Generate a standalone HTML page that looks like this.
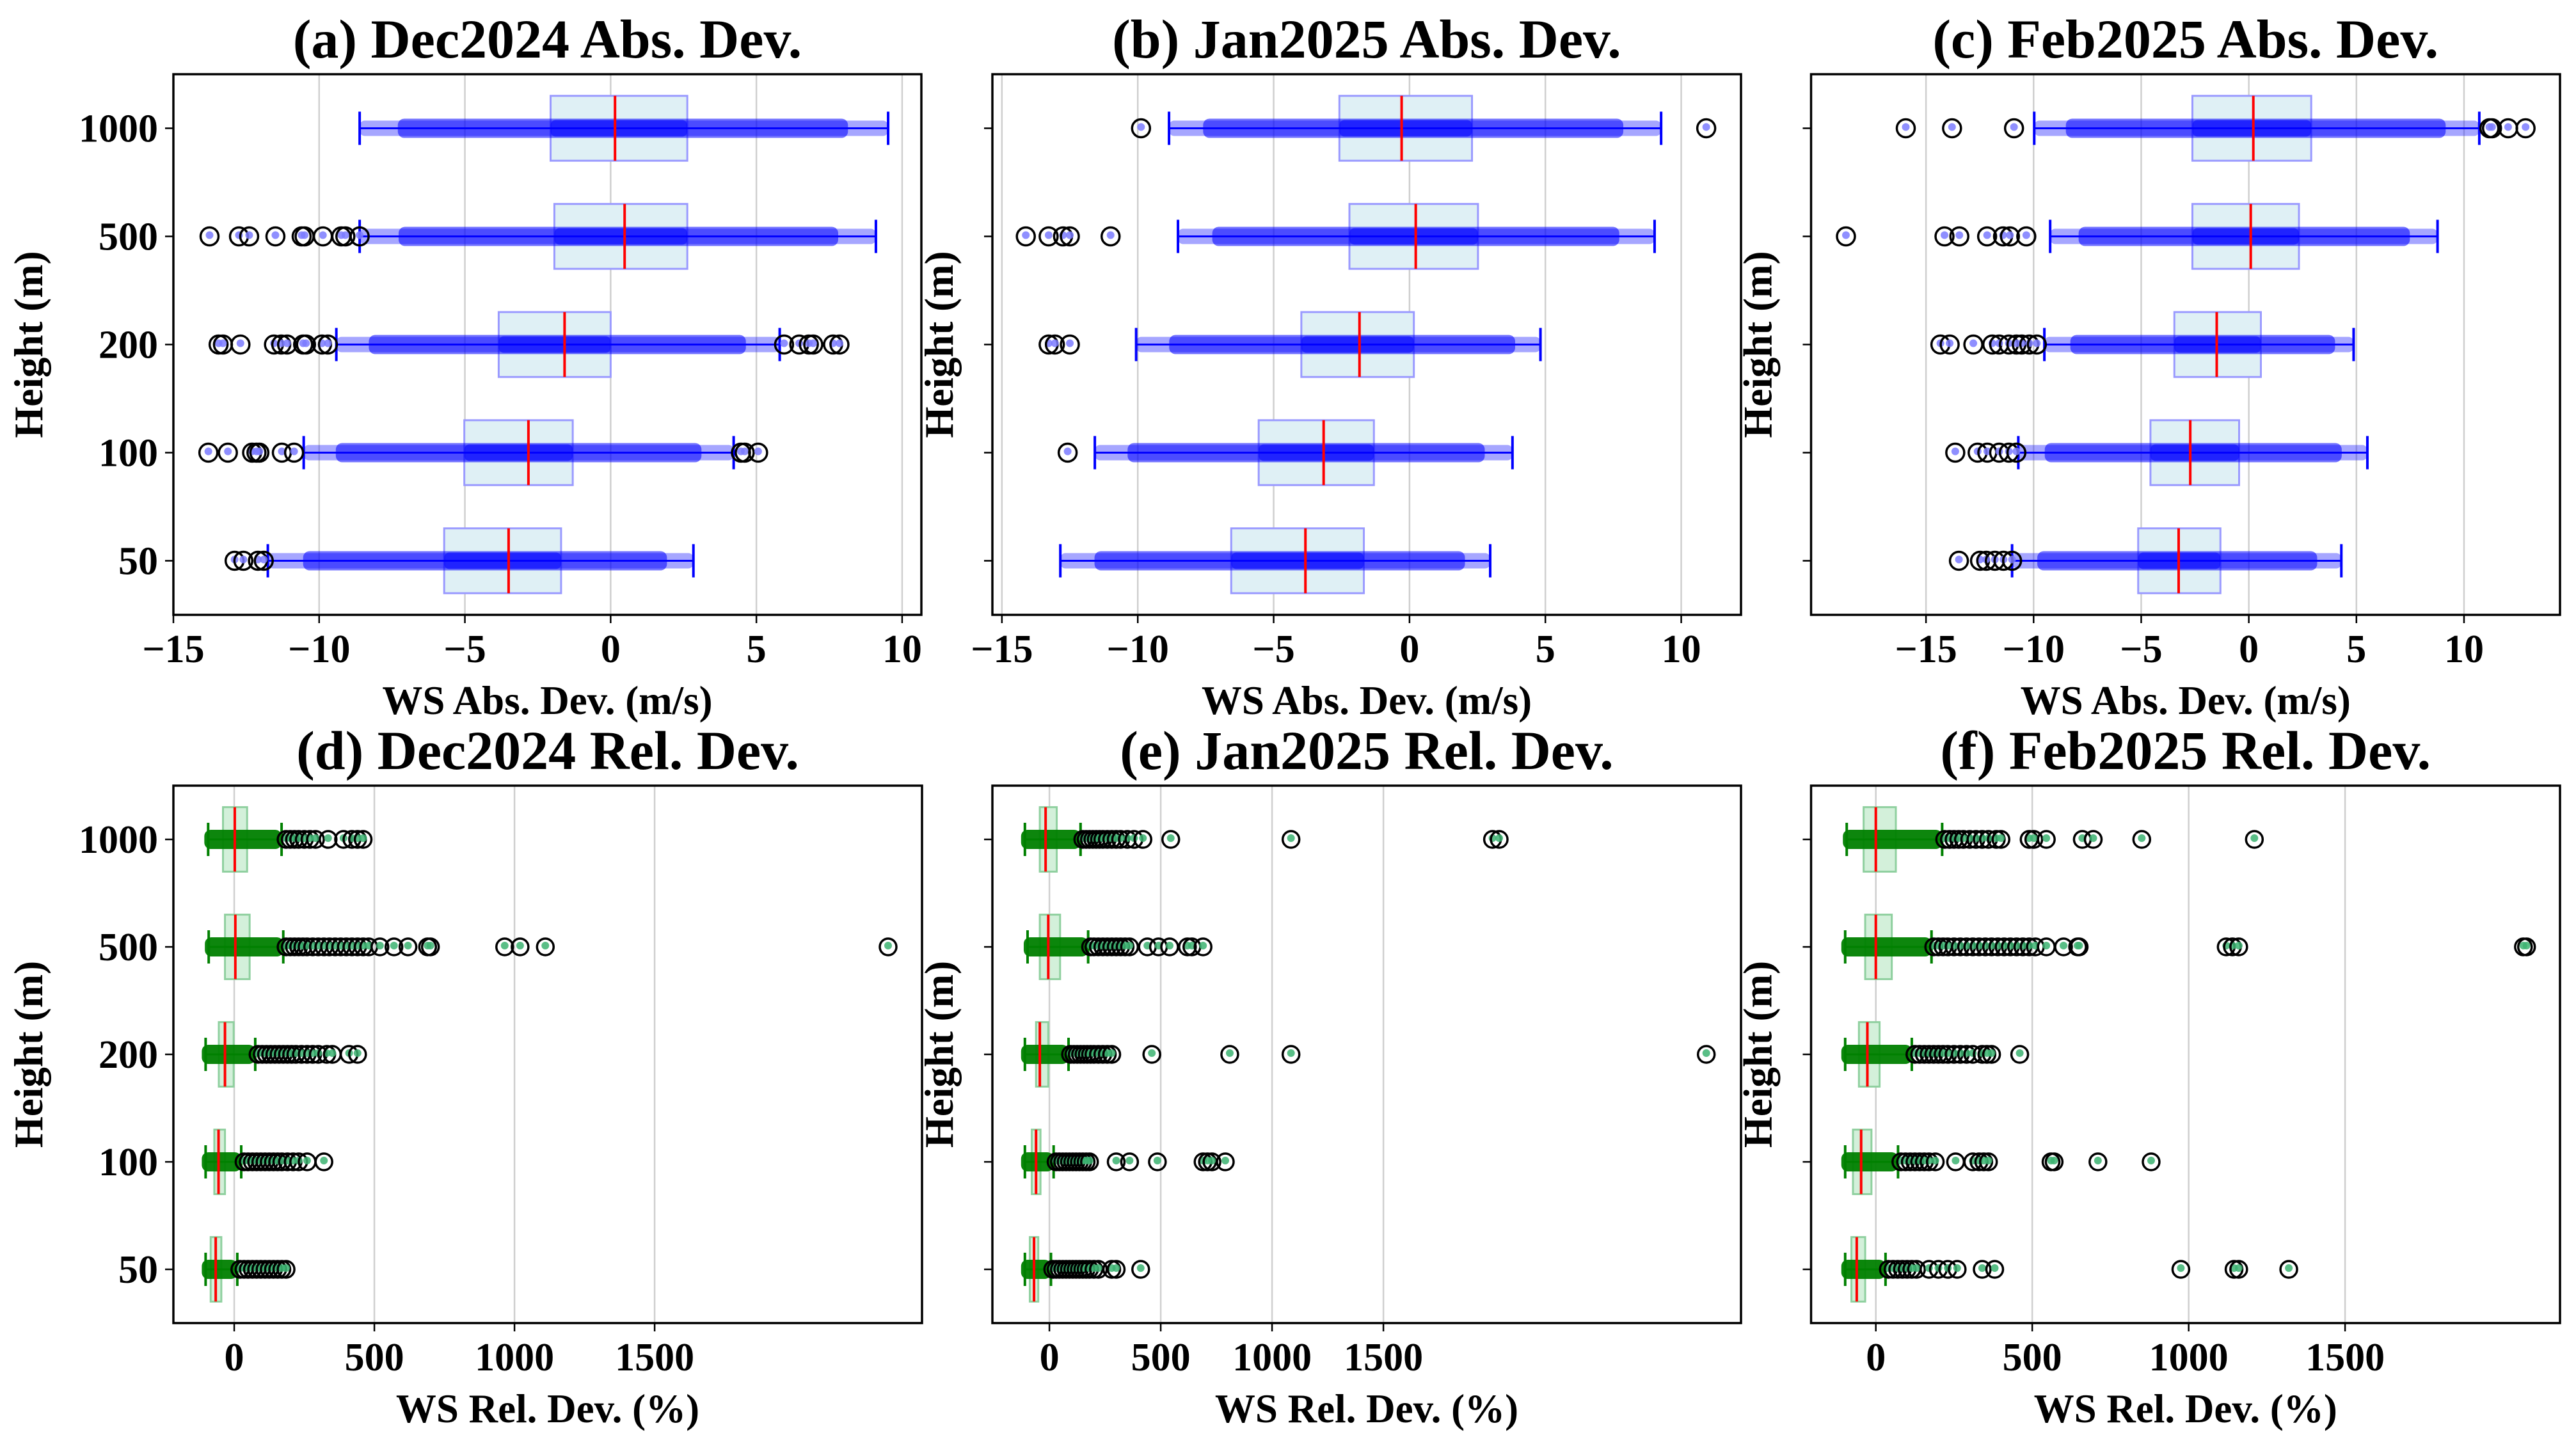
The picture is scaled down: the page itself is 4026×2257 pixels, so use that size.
<!DOCTYPE html>
<html><head><meta charset="utf-8">
<style>
html,body{margin:0;padding:0;background:#fff;}
svg{display:block;}
text{font-family:"Liberation Serif","DejaVu Serif",serif;font-weight:bold;fill:#000;}
</style></head>
<body>
<svg id="fig" xmlns="http://www.w3.org/2000/svg" width="4026" height="2257" viewBox="0 0 4026 2257"></svg>
<script>
// Height categories (bottom to top)
const heights = [50, 100, 200, 500, 1000];
const absTicks = [-15, -10, -5, 0, 5, 10];
const relTicks = [0, 500, 1000, 1500];

// (a) Dec2024 Abs
const aLo = [-11.76, -10.53, -9.41, -8.61, -8.61];
const aQ1 = [-5.71, -5.02, -3.84, -1.93, -2.06];
const aMed = [-3.5, -2.82, -1.58, 0.48, 0.15];
const aQ3 = [-1.7, -1.3, 0.0, 2.63, 2.63];
const aHi = [2.84, 4.22, 5.8, 9.1, 9.52];
const aOut = [[-12.9, -12.6, -12.1, -11.9], [-13.8, -13.13, -12.3, -12.15, -12.05, -11.28, -10.86, 4.47, 4.6, 5.06], [-13.45, -13.3, -12.7, -11.55, -11.3, -11.1, -10.55, -10.45, -9.9, -9.7, 5.95, 6.47, 6.8, 6.95, 7.63, 7.85], [-13.76, -12.75, -12.4, -11.5, -10.6, -10.5, -9.87, -9.24, -9.1, -8.61], []];

// (b) Jan2025 Abs
const bLo = [-12.85, -11.58, -10.06, -8.52, -8.85];
const bQ1 = [-6.56, -5.55, -3.98, -2.21, -2.58];
const bMed = [-3.83, -3.16, -1.84, 0.23, -0.29];
const bQ3 = [-1.68, -1.31, 0.16, 2.52, 2.3];
const bHi = [2.97, 3.79, 4.82, 9.02, 9.26];
const bOut = [[], [-12.58], [-13.28, -13.05, -12.5], [-14.12, -13.28, -12.75, -12.5, -11.0], [-9.88, 10.92]];

// (c) Feb2025 Abs
const cLo = [-11.0, -10.71, -9.5, -9.23, -9.97];
const cQ1 = [-5.14, -4.57, -3.46, -2.62, -2.62];
const cMed = [-3.26, -2.72, -1.49, 0.09, 0.21];
const cQ3 = [-1.32, -0.45, 0.56, 2.33, 2.9];
const cHi = [4.3, 5.51, 4.87, 8.77, 10.71];
const cOut = [[-13.47, -12.49, -12.2, -11.8, -11.4, -11.0], [-13.64, -12.6, -12.15, -11.6, -11.15, -10.8], [-14.33, -13.9, -12.8, -11.92, -11.6, -11.15, -10.8, -10.55, -10.2, -9.85], [-18.72, -14.14, -13.45, -12.16, -11.42, -11.1, -10.34], [-15.94, -13.79, -10.91, 11.18, 11.3, 12.05, 12.86]];

// (d) Dec2024 Rel
const dLo = [-102, -102, -102, -91, -93];
const dQ1 = [-84, -71, -55, -33, -40];
const dMed = [-66, -56, -33, 4, 2];
const dQ3 = [-46, -33, -2, 55, 46];
const dHi = [11, 25, 75, 175, 169];
const dOut = [[20, 35, 50, 65, 80, 95, 110, 125, 140, 155, 170, 185], [35, 50, 65, 80, 95, 110, 125, 140, 155, 170, 190, 210, 230, 260, 320], [85, 100, 115, 130, 145, 160, 175, 190, 205, 220, 240, 260, 280, 300, 330, 350, 410, 440], [185, 200, 215, 230, 245, 260, 280, 300, 320, 340, 360, 380, 400, 420, 440, 460, 480, 520, 570, 620, 690, 700, 965, 1020, 1110, 2333], [185, 200, 215, 230, 250, 270, 290, 335, 390, 420, 440, 460]];

// (e) Jan2025 Rel
const eLo = [-110, -110, -110, -98, -110];
const eQ1 = [-88, -79, -60, -43, -43];
const eMed = [-69, -60, -43, -5, -17];
const eQ3 = [-50, -40, -5, 48, 33];
const eHi = [7, 19, 86, 174, 140];
const eOut = [[15, 30, 45, 60, 75, 90, 105, 120, 135, 150, 165, 180, 200, 220, 280, 300, 410], [30, 45, 60, 75, 90, 105, 120, 135, 150, 165, 180, 300, 360, 485, 690, 710, 730, 790], [95, 110, 125, 140, 155, 170, 185, 200, 220, 240, 260, 280, 460, 810, 1085, 2950], [185, 200, 220, 240, 260, 280, 300, 320, 340, 360, 440, 490, 540, 620, 640, 690], [150, 165, 180, 195, 210, 225, 240, 260, 280, 300, 320, 350, 380, 420, 545, 1085, 1990, 2020]];

// (f) Feb2025 Rel
const fLo = [-98, -98, -98, -98, -93];
const fQ1 = [-78, -73, -54, -34, -39];
const fMed = [-61, -47, -27, 0, 0];
const fQ3 = [-34, -14, 12, 51, 64];
const fHi = [31, 71, 115, 178, 212];
const fOut = [[40, 55, 70, 85, 100, 115, 130, 170, 200, 230, 260, 340, 380, 975, 1145, 1160, 1320], [80, 95, 110, 125, 140, 155, 170, 190, 255, 310, 330, 345, 360, 560, 570, 710, 880], [125, 140, 155, 170, 185, 200, 215, 230, 250, 270, 290, 310, 340, 355, 370, 460], [185, 200, 215, 230, 250, 270, 290, 310, 330, 350, 370, 390, 410, 430, 450, 470, 490, 510, 545, 600, 645, 650, 1120, 1140, 1160, 2070, 2080], [220, 235, 250, 265, 280, 300, 320, 340, 360, 385, 400, 490, 505, 545, 660, 695, 850, 1210]];

const NS = "http://www.w3.org/2000/svg";
const svg = document.getElementById('fig');
function mk(tag, attrs, parent) {
  const e = document.createElementNS(NS, tag);
  for (const k in attrs) e.setAttribute(k, attrs[k]);
  (parent || svg).appendChild(e);
  return e;
}
function fmt(v) { return v < 0 ? '\u2212' + Math.abs(v) : String(v); }

const panels = [
  {id:'a', title:'(a) Dec2024 Abs. Dev.', x0:271, x1:1440, y0:116, y1:961, xmin:-15, xmax:10.66, ticks:absTicks, lo:aLo,q1:aQ1,med:aMed,q3:aQ3,hi:aHi,out:aOut, kind:'abs', ylab:true, xlabel:'WS Abs. Dev. (m/s)'},
  {id:'b', title:'(b) Jan2025 Abs. Dev.', x0:1551, x1:2721, y0:116, y1:961, xmin:-15.35, xmax:12.2, ticks:absTicks, lo:bLo,q1:bQ1,med:bMed,q3:bQ3,hi:bHi,out:bOut, kind:'abs', ylab:false, xlabel:'WS Abs. Dev. (m/s)'},
  {id:'c', title:'(c) Feb2025 Abs. Dev.', x0:2830.5, x1:4001, y0:116, y1:961, xmin:-20.34, xmax:14.46, ticks:absTicks, lo:cLo,q1:cQ1,med:cMed,q3:cQ3,hi:cHi,out:cOut, kind:'abs', ylab:false, xlabel:'WS Abs. Dev. (m/s)'},
  {id:'d', title:'(d) Dec2024 Rel. Dev.', x0:271, x1:1441, y0:1228, y1:2068, xmin:-217, xmax:2454, ticks:relTicks, lo:dLo,q1:dQ1,med:dMed,q3:dQ3,hi:dHi,out:dOut, kind:'rel', ylab:true, xlabel:'WS Rel. Dev. (%)'},
  {id:'e', title:'(e) Jan2025 Rel. Dev.', x0:1551, x1:2721, y0:1228, y1:2068, xmin:-256, xmax:3106, ticks:relTicks, lo:eLo,q1:eQ1,med:eMed,q3:eQ3,hi:eHi,out:eOut, kind:'rel', ylab:false, xlabel:'WS Rel. Dev. (%)'},
  {id:'f', title:'(f) Feb2025 Rel. Dev.', x0:2830.5, x1:4001, y0:1228, y1:2068, xmin:-207, xmax:2187, ticks:relTicks, lo:fLo,q1:fQ1,med:fMed,q3:fQ3,hi:fHi,out:fOut, kind:'rel', ylab:false, xlabel:'WS Rel. Dev. (%)'}
];

panels.forEach(p => {
  const g = mk('g', {});
  
  
  const X = v => p.x0 + (v - p.xmin) / (p.xmax - p.xmin) * (p.x1 - p.x0);
  const Y = i => p.y1 - ((i + 1) - 0.5) / 5 * (p.y1 - p.y0);
  const unitH = (p.y1 - p.y0) / 5;
  const cx = (p.x0 + p.x1) / 2;

  const t = mk('text', {x:cx, y:p.y0 - 26, 'text-anchor':'middle', 'font-size':86}, g);
  t.textContent = p.title;
  
  

  p.ticks.forEach(tv => {
    const gl = mk('line', {x1:X(tv), x2:X(tv), y1:p.y0, y2:p.y1, stroke:'#cfcfcf', 'stroke-width':2.5}, g);
    
    
  });

  const isAbs = p.kind === 'abs';
  const col = isAbs ? '#0000ff' : '#008000';
  const boxFill = isAbs ? '#dff0f5' : '#d3f0da';
  const boxEdge = isAbs ? '#9a9aff' : '#8fd09f';
  const dotCol = isAbs ? '#7b7bff' : '#3cb371';

  for (let i = 0; i < 5; i++) {
    const yc = Y(i);
    const bx = X(p.q1[i]), bw = X(p.q3[i]) - X(p.q1[i]);
    const bh = unitH * 0.6;
    const box = mk('rect', {x:bx, y:yc - bh/2, width:bw, height:bh, fill:boxFill, stroke:boxEdge, 'stroke-width':3}, g);
    
    
    const wl = mk('line', {x1:X(p.lo[i]), x2:X(p.hi[i]), y1:yc, y2:yc, stroke:col, 'stroke-width':3}, g);
    
    
    if (isAbs) {
      const band1 = mk('rect', {x:X(p.lo[i]), y:yc - 12, width:X(p.hi[i]) - X(p.lo[i]), height:24, fill:col, opacity:0.35, rx:8}, g);
      
      
      const l2 = p.q1[i] - (p.q1[i] - p.lo[i]) * 0.8, h2 = p.q3[i] + (p.hi[i] - p.q3[i]) * 0.8;
      const band2 = mk('rect', {x:X(l2), y:yc - 15, width:X(h2) - X(l2), height:30, fill:col, opacity:0.55, rx:10}, g);
      
      
      const band3 = mk('rect', {x:X(p.q1[i]), y:yc - 13, width:X(p.q3[i]) - X(p.q1[i]), height:26, fill:col, opacity:0.5, rx:8}, g);
      
      
    } else {
      const band1 = mk('rect', {x:X(p.lo[i]) - 6, y:yc - 15, width:X(p.hi[i]) - X(p.lo[i]) + 6, height:30, fill:col, opacity:0.95, rx:10}, g);
      
      
    }
    [p.lo[i], p.hi[i]].forEach(v => {
      const c = mk('line', {x1:X(v), x2:X(v), y1:yc - 26, y2:yc + 26, stroke:col, 'stroke-width':4}, g);
      
      
    });
    const m = mk('line', {x1:X(p.med[i]), x2:X(p.med[i]), y1:yc - bh/2, y2:yc + bh/2, stroke:'#ff0000', 'stroke-width':4}, g);
    
    
    const R = isAbs ? 14 : 13;
    p.out[i].forEach(v => {
      const d = mk('circle', {cx:X(v), cy:yc - 2, r:6, fill:dotCol, opacity:0.85}, g);
      
      
      const o = mk('circle', {cx:X(v), cy:yc, r:R, fill:'none', stroke:'#000', 'stroke-width':3.5}, g);
      
      
    });
    const yt = mk('line', {x1:p.x0 - 13, x2:p.x0, y1:yc, y2:yc, stroke:'#000', 'stroke-width':2.5}, g);
    
    
    if (p.ylab) {
      const tl = mk('text', {x:p.x0 - 24, y:yc + 21, 'text-anchor':'end', 'font-size':62}, g);
      tl.textContent = heights[i];
      
      
    }
  }

  const fr = mk('rect', {x:p.x0, y:p.y0, width:p.x1 - p.x0, height:p.y1 - p.y0, fill:'none', stroke:'#000', 'stroke-width':3.5}, g);
  
  

  p.ticks.forEach(tv => {
    const tk = mk('line', {x1:X(tv), x2:X(tv), y1:p.y1, y2:p.y1 + 13, stroke:'#000', 'stroke-width':2.5}, g);
    
    
    const tl = mk('text', {x:X(tv), y:p.y1 + 74, 'text-anchor':'middle', 'font-size':62}, g);
    tl.textContent = fmt(tv);
    
    
  });

  const xl = mk('text', {x:cx, y:p.y1 + 155, 'text-anchor':'middle', 'font-size':63}, g);
  xl.textContent = p.xlabel;
  
  

  const yx = p.x0 - (p.ylab ? 205 : 62);
  const ym = (p.y0 + p.y1) / 2;
  const yl = mk('text', {x:yx, y:ym, 'text-anchor':'middle', 'font-size':63, transform:'rotate(-90 ' + yx + ' ' + ym + ')'}, g);
  yl.textContent = 'Height (m)';
  
  
});
</script>
</body></html>
